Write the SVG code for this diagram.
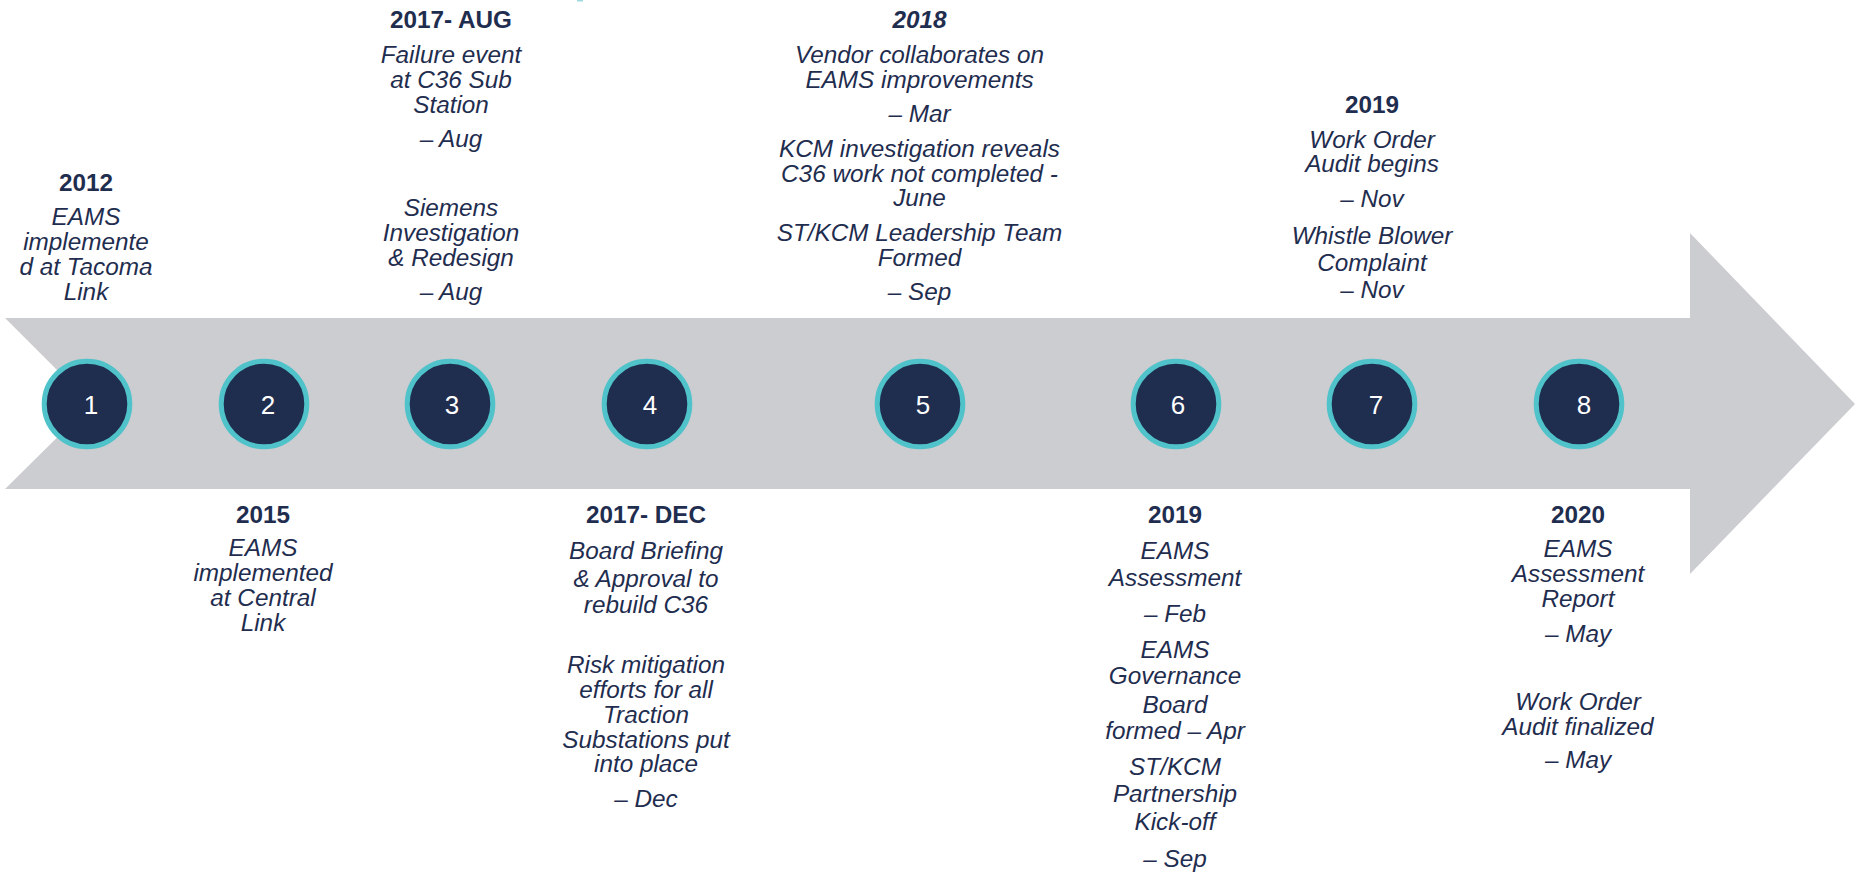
<svg xmlns="http://www.w3.org/2000/svg" width="1855" height="872" viewBox="0 0 1855 872">
<style>
.band{fill:#CBCDD1}
.dot circle{fill:#1F2D4F;stroke:#4FC3C9;stroke-width:5}
.num{font-family:"Liberation Sans",Arial,sans-serif;font-size:26px;fill:#FFFFFF;text-anchor:middle}
.lbl{font-family:"Liberation Sans",Arial,sans-serif;font-size:24.3px;fill:#1F2D4F;text-anchor:middle;font-style:italic}
.yr{font-weight:bold;font-style:normal}
.yri{font-weight:bold;font-style:italic}
</style>
<rect width="1855" height="872" fill="#FFFFFF"/>
<rect x="577" y="0" width="6" height="1.5" fill="#9FD8E0"/>
<g id="connectors">
<polygon class="band" points="5,318 1690,318 1690,233 1855,404 1690,574 1690,489 5,489 91,404"/>
</g>
<g id="node1" class="dot"><circle cx="87" cy="404" r="42.8"/><text class="num" x="91" y="413.5">1</text></g>
<g id="node2" class="dot"><circle cx="264" cy="404" r="42.8"/><text class="num" x="268" y="413.5">2</text></g>
<g id="node3" class="dot"><circle cx="450" cy="404" r="42.8"/><text class="num" x="452" y="413.5">3</text></g>
<g id="node4" class="dot"><circle cx="647" cy="404" r="42.8"/><text class="num" x="650" y="413.5">4</text></g>
<g id="node5" class="dot"><circle cx="920" cy="404" r="42.8"/><text class="num" x="923" y="413.5">5</text></g>
<g id="node6" class="dot"><circle cx="1176" cy="404" r="42.8"/><text class="num" x="1178" y="413.5">6</text></g>
<g id="node7" class="dot"><circle cx="1372" cy="404" r="42.8"/><text class="num" x="1376" y="413.5">7</text></g>
<g id="node8" class="dot"><circle cx="1579" cy="404" r="42.8"/><text class="num" x="1584" y="413.5">8</text></g>

<g id="label2012">
<text class="lbl"><tspan class="yr" x="86" y="190.7">2012</tspan><tspan x="86" y="225">EAMS</tspan><tspan x="86" y="250">implemente</tspan><tspan x="86" y="275">d at Tacoma</tspan><tspan x="86" y="300">Link</tspan></text>
</g>
<g id="label2017aug">
<text class="lbl"><tspan class="yr" x="451" y="27.7">2017- AUG</tspan><tspan x="451" y="62.7">Failure event</tspan><tspan x="451" y="87.7">at C36 Sub</tspan><tspan x="451" y="112.7">Station</tspan><tspan x="451" y="146.7">– Aug</tspan><tspan x="451" y="216">Siemens</tspan><tspan x="451" y="240.7">Investigation</tspan><tspan x="451" y="265.7">&amp; Redesign</tspan><tspan x="451" y="300">– Aug</tspan></text>
</g>
<g id="label2018">
<text class="lbl"><tspan class="yri" x="919.5" y="27.7">2018</tspan><tspan x="919.5" y="62.7">Vendor collaborates on</tspan><tspan x="919.5" y="87.7">EAMS improvements</tspan><tspan x="919.5" y="121.7">– Mar</tspan><tspan x="919.5" y="156.7">KCM investigation reveals</tspan><tspan x="919.5" y="181.7">C36 work not completed -</tspan><tspan x="919.5" y="205.5">June</tspan><tspan x="919.5" y="240.7">ST/KCM Leadership Team</tspan><tspan x="919.5" y="265.7">Formed</tspan><tspan x="919.5" y="300">– Sep</tspan></text>
</g>
<g id="label2019top">
<text class="lbl"><tspan class="yr" x="1372" y="113.3">2019</tspan><tspan x="1372" y="147.7">Work Order</tspan><tspan x="1372" y="172.3">Audit begins</tspan><tspan x="1372" y="206.7">– Nov</tspan><tspan x="1372" y="244.3">Whistle Blower</tspan><tspan x="1372" y="270.7">Complaint</tspan><tspan x="1372" y="298.3">– Nov</tspan></text>
</g>
<g id="label2015">
<text class="lbl"><tspan class="yr" x="263" y="523">2015</tspan><tspan x="263" y="555.5">EAMS</tspan><tspan x="263" y="580.5">implemented</tspan><tspan x="263" y="605.5">at Central</tspan><tspan x="263" y="630.5">Link</tspan></text>
</g>
<g id="label2017dec">
<text class="lbl"><tspan class="yr" x="646" y="522.7">2017- DEC</tspan><tspan x="646" y="559.3">Board Briefing</tspan><tspan x="646" y="586.7">&amp; Approval to</tspan><tspan x="646" y="613.3">rebuild C36</tspan><tspan x="646" y="673.3">Risk mitigation</tspan><tspan x="646" y="698.3">efforts for all</tspan><tspan x="646" y="723.3">Traction</tspan><tspan x="646" y="748.3">Substations put</tspan><tspan x="646" y="771.7">into place</tspan><tspan x="646" y="806.7">– Dec</tspan></text>
</g>
<g id="label2019bottom">
<text class="lbl"><tspan class="yr" x="1175" y="522.7">2019</tspan><tspan x="1175" y="559.3">EAMS</tspan><tspan x="1175" y="586">Assessment</tspan><tspan x="1175" y="621.7">– Feb</tspan><tspan x="1175" y="658.3">EAMS</tspan><tspan x="1175" y="684">Governance</tspan><tspan x="1175" y="713.3">Board</tspan><tspan x="1175" y="739.3">formed – Apr</tspan><tspan x="1175" y="775">ST/KCM</tspan><tspan x="1175" y="801.7">Partnership</tspan><tspan x="1175" y="830">Kick-off</tspan><tspan x="1175" y="866.7">– Sep</tspan></text>
</g>
<g id="label2020">
<text class="lbl"><tspan class="yr" x="1578" y="523.3">2020</tspan><tspan x="1578" y="556.7">EAMS</tspan><tspan x="1578" y="581.7">Assessment</tspan><tspan x="1578" y="606.7">Report</tspan><tspan x="1578" y="641.7">– May</tspan><tspan x="1578" y="710">Work Order</tspan><tspan x="1578" y="735">Audit finalized</tspan><tspan x="1578" y="768.3">– May</tspan></text>
</g>
</svg>
